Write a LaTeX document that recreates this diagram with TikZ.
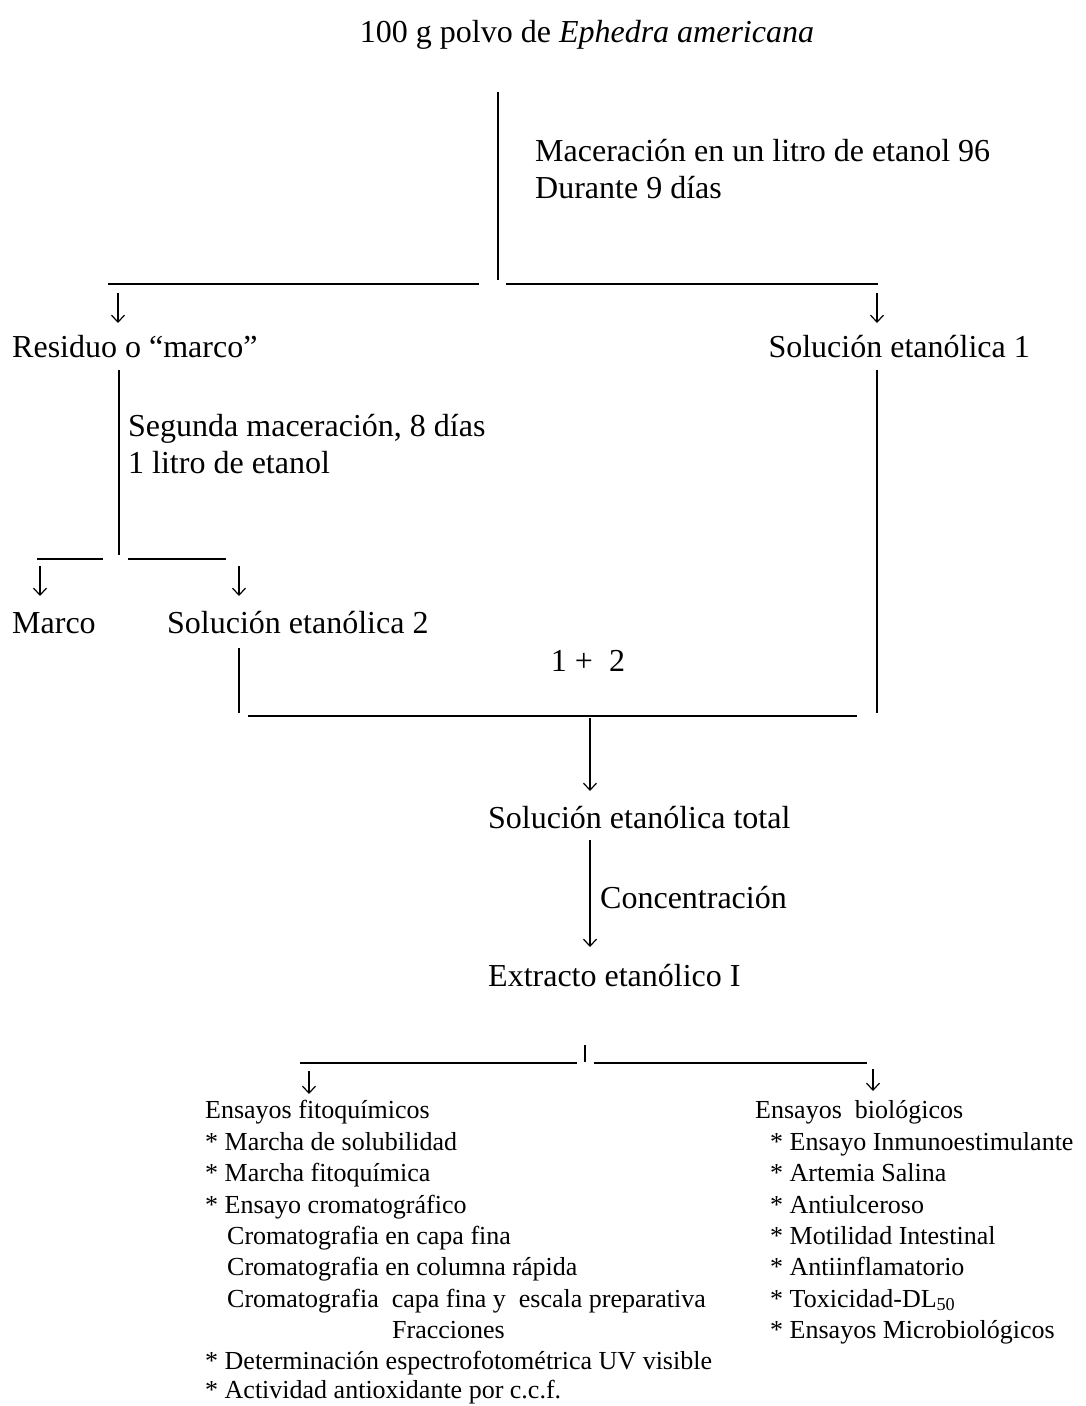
\documentclass[tikz,border=0pt]{standalone}
\usepackage{fontspec}
\setmainfont{Liberation Serif}
\usetikzlibrary{arrows.meta}
\begin{document}
\begin{tikzpicture}[x=1pt,y=-1pt,
  big/.style={font=\fontsize{32}{37}\selectfont, inner sep=0pt, anchor=base west},
  small/.style={font=\fontsize{26}{31}\selectfont, inner sep=0pt, anchor=base west},
  ln/.style={line width=1.2pt},
  arr/.style={line width=1.2pt, -{Straight Barb[length=7pt,width=13pt]}}]
\useasboundingbox[fill=white] (0,0) rectangle (1085,1406);

% top
\node[big, anchor=base] (title) at (587,42) {100 g polvo de \textit{Ephedra americana}};
\node[big] (mac1) at (535,161) {Maceración en un litro de etanol 96};
\node[big] (mac2) at (535,198) {Durante 9 días};
\coordinate (t1) at (498,92); \coordinate (t2) at (498,280);
\draw[ln] (t1) -- (t2);
\coordinate (hl1) at (108,284); \coordinate (hl2) at (479,284);
\coordinate (hr1) at (506,284); \coordinate (hr2) at (878,284);
\draw[ln] (hl1) -- (hl2);
\draw[ln] (hr1) -- (hr2);
\coordinate (a1s) at (118,293); \coordinate (a1e) at (118,323);
\coordinate (a2s) at (877,293); \coordinate (a2e) at (877,323);
\draw[arr] (a1s) -- (a1e);
\draw[arr] (a2s) -- (a2e);

% second level
\node[big] (res) at (12,357) {Residuo o “marco”};
\node[big, anchor=base east] (sol1) at (1030,357) {Solución etanólica 1};
\coordinate (r1) at (119,370); \coordinate (r2) at (119,555);
\draw[ln] (r1) -- (r2);
\node[big] (seg1) at (128,436) {Segunda maceración, 8 días};
\node[big] (seg2) at (128,473) {1 litro de etanol};
\coordinate (h2a) at (37,559); \coordinate (h2b) at (103,559);
\coordinate (h2c) at (128,559); \coordinate (h2d) at (226,559);
\draw[ln] (h2a) -- (h2b);
\draw[ln] (h2c) -- (h2d);
\coordinate (a3s) at (40,566); \coordinate (a3e) at (40,596);
\coordinate (a4s) at (239,566); \coordinate (a4e) at (239,596);
\draw[arr] (a3s) -- (a3e);
\draw[arr] (a4s) -- (a4e);
\node[big] (marco) at (12,633) {Marco};
\node[big] (sol2) at (167,633) {Solución etanólica 2};

% join
\coordinate (s2a) at (239,648); \coordinate (s2b) at (239,713);
\draw[ln] (s2a) -- (s2b);
\coordinate (s1a) at (877,370); \coordinate (s1b) at (877,713);
\draw[ln] (s1a) -- (s1b);
\node[big, anchor=base] (sum) at (588,671) {1 +\ \ 2};
\coordinate (j1) at (248,716); \coordinate (j2) at (857,716);
\draw[ln] (j1) -- (j2);
\coordinate (a5s) at (590,718); \coordinate (a5e) at (590,791);
\draw[arr] (a5s) -- (a5e);
\node[big] (tot) at (488,828) {Solución etanólica total};
\coordinate (a6s) at (590,840); \coordinate (a6e) at (590,947);
\draw[arr] (a6s) -- (a6e);
\node[big] (conc) at (600,908) {Concentración};
\node[big] (ext) at (488,986) {Extracto etanólico I};

% bottom split
\coordinate (e1) at (585,1045); \coordinate (e2) at (585,1062);
\draw[ln] (e1) -- (e2);
\coordinate (b1) at (300,1063); \coordinate (b2) at (577,1063);
\coordinate (b3) at (594,1063); \coordinate (b4) at (867,1063);
\draw[ln] (b1) -- (b2);
\draw[ln] (b3) -- (b4);
\coordinate (a7s) at (309,1071); \coordinate (a7e) at (309,1094);
\coordinate (a8s) at (873,1069); \coordinate (a8e) at (873,1091);
\draw[arr] (a7s) -- (a7e);
\draw[arr] (a8s) -- (a8e);

% left list
\node[small] (f0) at (205,1118) {Ensayos fitoquímicos};
\node[small] (f1) at (205,1150) {* Marcha de solubilidad};
\node[small] (f2) at (205,1181) {* Marcha fitoquímica};
\node[small] (f3) at (205,1213) {* Ensayo cromatográfico};
\node[small] (f4) at (227,1244) {Cromatografia en capa fina};
\node[small] (f5) at (227,1275) {Cromatografia en columna rápida};
\node[small] (f6) at (227,1307) {Cromatografia\ \ capa fina y\ \ escala preparativa};
\node[small] (f7) at (392,1338) {Fracciones};
\node[small] (f8) at (205,1369) {* Determinación espectrofotométrica UV visible};
\node[small] (f9) at (205,1398) {* Actividad antioxidante por c.c.f.};

% right list
\node[small] (g0) at (755,1118) {Ensayos\ \ biológicos};
\node[small] (g1) at (770,1150) {* Ensayo Inmunoestimulante};
\node[small] (g2) at (770,1181) {* Artemia Salina};
\node[small] (g3) at (770,1213) {* Antiulceroso};
\node[small] (g4) at (770,1244) {* Motilidad Intestinal};
\node[small] (g5) at (770,1275) {* Antiinflamatorio};
\node[small] (g6) at (770,1307) {* Toxicidad-DL\textsubscript{50}};
\node[small] (g7) at (770,1338) {* Ensayos Microbiológicos};
\end{tikzpicture}
\end{document}
